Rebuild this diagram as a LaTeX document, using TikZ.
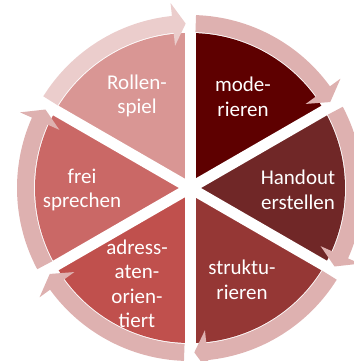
\documentclass[tikz,border=0pt]{standalone}
\usepackage{fontspec}
\setmainfont{Carlito}
\definecolor{segA}{HTML}{5E0000}
\definecolor{segB}{HTML}{702727}
\definecolor{segC}{HTML}{953735}
\definecolor{segD}{HTML}{C0504D}
\definecolor{segE}{HTML}{CA6866}
\definecolor{segF}{HTML}{D99694}
\definecolor{ringcol}{HTML}{DEB1B0}
\definecolor{ringlight}{HTML}{EBCDCC}
\tikzset{
    seg/.style={fill=#1},
    gap/.style={draw=white, line width=11pt},
    ring/.style={fill=#1},
    lbl/.style={text=white, align=center, font=\fontsize{21}{24.5}\selectfont},
}

\begin{document}
\begin{tikzpicture}[x=1pt,y=1pt]
    \useasboundingbox (-190,-173) rectangle (163,188);
    \fill[seg=segA] (0,0) -- (90:155) arc[start angle=90, end angle=30, radius=155] -- cycle;
    \fill[seg=segB] (0,0) -- (30:155) arc[start angle=30, end angle=-30, radius=155] -- cycle;
    \fill[seg=segC] (0,0) -- (-30:155) arc[start angle=-30, end angle=-90, radius=155] -- cycle;
    \fill[seg=segD] (0,0) -- (-90:155) arc[start angle=-90, end angle=-150, radius=155] -- cycle;
    \fill[seg=segE] (0,0) -- (-150:155) arc[start angle=-150, end angle=-210, radius=155] -- cycle;
    \fill[seg=segF] (0,0) -- (150:155) arc[start angle=150, end angle=90, radius=155] -- cycle;
    \draw[gap] (90:158) -- (-90:158);
    \draw[gap] (30:158) -- (-150:158);
    \draw[gap] (-30:158) -- (150:158);
    \fill[ring=ringcol] (88:156) arc[start angle=88, end angle=36, radius=156] -- (36:143) -- (31.5:164.5) -- (36:186) -- (36:173) arc[start angle=36, end angle=88, radius=173] -- cycle;
    \fill[ring=ringcol] (28:156) arc[start angle=28, end angle=-24, radius=156] -- (-24:143) -- (-28.5:164.5) -- (-24:186) -- (-24:173) arc[start angle=-24, end angle=28, radius=173] -- cycle;
    \fill[ring=ringcol] (-32:156) arc[start angle=-32, end angle=-84, radius=156] -- (-84:143) -- (-88.5:164.5) -- (-84:186) -- (-84:173) arc[start angle=-84, end angle=-32, radius=173] -- cycle;
    \fill[ring=ringcol] (-92:156) arc[start angle=-92, end angle=-144, radius=156] -- (-144:143) -- (-148.5:164.5) -- (-144:186) -- (-144:173) arc[start angle=-144, end angle=-92, radius=173] -- cycle;
    \fill[ring=ringcol] (208:156) arc[start angle=208, end angle=156, radius=156] -- (156:143) -- (151.5:164.5) -- (156:186) -- (156:173) arc[start angle=156, end angle=208, radius=173] -- cycle;
    \fill[ring=ringlight] (148:156) arc[start angle=148, end angle=96, radius=156] -- (96:143) -- (91.5:164.5) -- (96:186) -- (96:173) arc[start angle=96, end angle=148, radius=173] -- cycle;
    \node[lbl] (moderieren) at (53,91) {mode-\\rieren};
    \node[lbl] (handout) at (108,-2) {Handout\\erstellen};
    \node[lbl] (strukturieren) at (52,-92) {struktu-\\rieren};
    \node[lbl] (adressaten) at (-53,-96) {adress-\\aten-\\orien-\\tiert};
    \node[lbl] (frei) at (-108,-2) {frei\\sprechen};
    \node[lbl] (rollenspiel) at (-53,92) {Rollen-\\spiel};
\end{tikzpicture}
\end{document}
